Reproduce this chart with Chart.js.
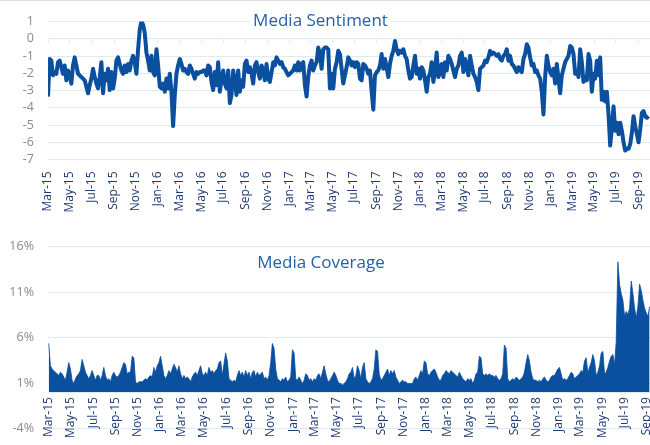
<!DOCTYPE html>
<html>
<head>
<meta charset="utf-8">
<title>Media Sentiment / Media Coverage</title>
<script src="https://cdn.jsdelivr.net/npm/chart.js@4.4.0/dist/chart.umd.min.js"></script>
<style>
  html, body { margin: 0; padding: 0; background: #fff; overflow: hidden; }
  #page { position: relative; width: 650px; height: 445px; overflow: hidden; }
  #topRule { position: absolute; left: 0; top: 0; width: 650px; height: 1px; background: #dcdcdc; z-index: 2; }
  #sentimentChart { position: absolute; left: 0; top: 0; }
  #coverageChart { position: absolute; left: 0; top: 225px; }
</style>
</head>
<body>
<div id="page">
  <div id="topRule"></div>
  <canvas id="sentimentChart" width="650" height="224"></canvas>
  <canvas id="coverageChart" width="652" height="225"></canvas>
</div>
<script>
// Tick labels of the date axis (every second month)
const monthTickLabels = ['Mar-15', 'May-15', 'Jul-15', 'Sep-15', 'Nov-15', 'Jan-16', 'Mar-16', 'May-16',
  'Jul-16', 'Sep-16', 'Nov-16', 'Jan-17', 'Mar-17', 'May-17', 'Jul-17', 'Sep-17', 'Nov-17', 'Jan-18',
  'Mar-18', 'May-18', 'Jul-18', 'Sep-18', 'Nov-18', 'Jan-19', 'Mar-19', 'May-19', 'Jul-19', 'Sep-19'];

const sentimentTicks = [-7, -6, -5, -4, -3, -2, -1, 0, 1];
const coverageTicks = [-4, 1, 6, 11, 16];

// readings start 1 Mar 2015, one reading every few days
const SENTIMENT_STEP_DAYS = 4.65;
const COVERAGE_STEP_DAYS = 4.59;

// Media Sentiment (score)
const sentiment = [
  -3.35, -1.17, -1.27, -2.12, -1.93, -2.03, -1.36, -1.27, -1.65, -2.03,
  -1.55, -2.41, -1.84, -2.12, -2.60, -1.55, -1.08, -1.55, -2.03, -2.12,
  -2.22, -2.31, -2.41, -2.78, -3.16, -2.69, -2.31, -1.74, -2.22, -2.60,
  -2.88, -2.22, -1.36, -3.16, -2.03, -2.41, -1.74, -2.97, -1.93, -2.88,
  -2.31, -1.27, -1.08, -1.46, -1.84, -2.03, -1.55, -1.93, -1.46, -1.84,
  -1.27, -0.99, -1.36, -2.03, -0.61, 0.53, 1.00, 0.81, 0.34, -0.80,
  -1.27, -1.84, -0.99, -1.93, -2.12, -0.61, -1.55, -2.78, -2.88, -2.60,
  -3.07, -2.31, -2.88, -2.03, -3.07, -5.06, -3.26, -2.03, -1.55, -1.17,
  -1.46, -1.84, -1.74, -1.93, -2.03, -1.55, -1.74, -2.03, -2.31, -1.93,
  -2.03, -1.93, -1.93, -1.84, -1.84, -2.12, -1.55, -1.65, -2.50, -2.97,
  -1.93, -2.69, -1.36, -3.07, -2.41, -1.84, -2.60, -2.88, -1.84, -3.73,
  -3.26, -1.84, -2.50, -3.26, -1.84, -3.07, -2.41, -2.78, -1.46, -1.27,
  -1.93, -1.65, -2.03, -2.60, -1.55, -1.36, -1.93, -2.31, -1.55, -1.84,
  -2.41, -1.46, -2.31, -2.50, -1.93, -1.36, -1.55, -1.08, -1.27, -1.46,
  -1.36, -1.65, -1.74, -1.93, -2.12, -2.03, -1.93, -1.84, -1.55, -1.84,
  -1.36, -1.84, -1.46, -1.36, -2.69, -3.35, -2.22, -1.55, -1.27, -1.84,
  -1.55, -1.36, -0.51, -0.89, -1.74, -0.61, -0.51, -0.51, -0.61, -2.88,
  -2.03, -2.88, -1.74, -1.36, -0.70, -0.89, -1.74, -2.60, -2.12, -1.65,
  -1.08,
  -1.27, -1.55, -1.36, -1.65, -1.36, -1.46, -2.31, -2.41, -1.46, -1.55,
  -1.74, -2.03, -1.84, -3.07, -4.11, -2.12, -1.93, -1.84, -1.55, -0.89,
  -1.74, -1.17, -1.65, -2.22, -1.46, -0.99, -0.70, -0.13, -0.61, -0.89,
  -0.70, -0.80, -0.61, -0.99, -1.17, -1.84, -2.31, -2.22, -1.55, -0.99,
  -2.03, -1.74, -2.31, -1.65, -1.84, -2.41, -3.07, -2.22, -2.03, -1.36,
  -2.50, -1.84, -0.80, -2.22, -1.93, -1.46, -2.22, -1.36, -1.84, -0.99,
  -1.17, -1.46, -1.84, -2.22, -1.74, -1.55, -0.99, -0.80, -1.93, -1.17,
  -1.55, -2.12, -0.99, -1.55, -2.03, -2.22, -2.50, -2.97, -1.74, -1.65,
  -1.55, -1.27, -1.36, -1.08, -0.70, -0.89, -0.80, -0.89, -0.99, -0.89,
  -1.17, -1.27, -0.99, -0.89, -0.61, -1.27, -0.99, -1.46, -1.55, -1.74,
  -1.93, -1.65, -1.84, -1.93, -1.17, -0.89, -0.32, -0.51, -1.08, -1.55,
  -1.46, -1.93, -1.84, -2.12, -2.31, -3.07, -4.39, -2.22, -0.99, -1.55,
  -1.93, -2.12, -1.74, -2.60, -1.46, -2.31, -3.16, -2.12, -1.74, -1.36,
  -1.17, -0.99, -0.42, -0.51, -0.89, -2.03, -1.84, -2.22, -0.61, -1.36,
  -2.50, -2.22, -2.41, -0.89, -1.27, -3.07, -2.03, -2.31, -1.27, -2.12,
  -1.08, -3.54, -3.07, -3.64, -3.07, -4.39, -6.19, -5.15, -3.92, -5.34,
  -4.87, -5.53, -4.87, -5.34, -6.00, -6.48, -6.38, -6.38, -6.10, -5.44,
  -4.49, -5.06, -5.53, -6.00, -5.25, -4.30, -4.20, -4.49, -4.58, -4.49
];

// Media Coverage (% share)
const coverage = [
  5.35, 2.89, 2.54, 2.36, 2.19, 2.01, 1.83, 2.19, 2.01, 1.66,
  1.31, 2.19, 3.24, 2.54, 1.31, 0.95, 1.48, 1.83, 2.01, 2.36,
  3.59, 2.89, 2.19, 1.83, 1.48, 1.83, 2.36, 1.83, 1.31, 1.83,
  1.83, 1.31, 1.83, 2.71, 1.83, 1.31, 1.48, 1.13, 1.83, 2.19,
  1.83, 1.66, 1.83, 2.19, 2.71, 3.24, 3.06, 2.01, 2.19, 2.19,
  3.94, 3.77, 1.13, 0.95, 1.13, 1.13, 1.13, 1.31, 1.48, 1.31,
  1.66, 1.83, 1.66, 2.71, 2.19, 2.89, 3.24, 3.94, 2.89, 1.83,
  1.48, 1.83, 2.36, 2.01, 2.54, 3.06, 2.71, 2.19, 2.89, 2.01,
  1.48, 1.83, 1.48, 1.66, 1.48, 1.13, 1.66, 2.01, 2.19, 1.83,
  2.36, 2.89, 2.01, 1.83, 2.19, 1.83, 2.71, 2.19, 2.36, 2.01,
  2.36, 2.54, 3.24, 3.42, 1.83, 3.06, 4.30, 3.42, 1.48, 1.31,
  1.13, 1.31, 1.13, 1.83, 2.36, 1.83, 2.19, 1.66, 2.36, 1.83,
  2.19, 1.48, 2.19, 2.36, 1.66, 2.19, 1.83, 2.01, 2.19, 1.48,
  1.66, 1.31, 1.83, 3.24, 5.35, 4.82, 2.54, 1.48, 1.31, 1.13,
  1.48, 1.31, 1.66, 1.13, 1.31, 1.66, 4.65, 4.30, 1.48, 1.31,
  1.66, 1.31, 0.95, 1.31, 2.01, 1.83, 1.31, 1.48, 1.13, 1.48,
  1.31, 1.83, 2.01, 1.48, 2.19, 2.89, 2.01, 1.31, 1.13, 1.48,
  1.83, 2.19, 1.83, 1.31, 0.95, 0.95, 0.78, 0.95, 1.13, 1.48,
  2.01,
  2.18, 2.71, 1.48, 1.83, 2.89, 2.36, 1.48, 2.71, 3.24, 1.48,
  1.13, 0.95, 1.13, 1.48, 2.54, 4.65, 4.47, 2.01, 1.31, 1.48,
  1.83, 2.18, 2.54, 1.83, 2.36, 2.01, 2.36, 1.66, 1.31, 0.95,
  1.13, 1.31, 1.13, 1.13, 0.95, 0.95, 0.95, 0.95, 1.48, 1.66,
  1.31, 1.83, 2.36, 2.01, 3.42, 3.24, 2.01, 1.83, 2.18, 2.36,
  2.54, 2.18, 1.66, 1.31, 1.31, 1.83, 2.01, 2.36, 2.18, 2.01,
  2.36, 2.18, 2.01, 1.83, 1.66, 2.18, 1.83, 1.48, 1.31, 1.13,
  1.48, 1.31, 1.48, 0.95, 1.31, 2.01, 2.18, 3.94, 3.77, 2.01,
  1.83, 2.01, 1.83, 2.01, 1.83, 1.83, 1.66, 1.83, 1.48, 1.31,
  1.48, 2.01, 5.17, 4.82, 1.48, 1.13, 1.31, 1.48, 1.31, 1.66,
  1.48, 1.31, 1.48, 1.66, 2.18, 3.24, 4.12, 3.42, 2.18, 1.48,
  1.31, 1.31, 1.13, 1.31, 1.13, 1.48, 1.66, 1.31, 1.13, 1.31,
  1.66, 1.83, 1.83, 2.18, 2.54, 2.71, 2.01, 1.31, 1.48, 1.31,
  1.48, 1.83, 2.18, 2.01, 1.48, 1.66, 1.83, 2.01, 2.36, 2.18,
  3.42, 3.77, 2.18, 2.71, 3.24, 4.12, 3.42, 1.83, 2.18, 2.89,
  4.29, 4.47, 2.01, 2.18, 2.71, 3.42, 3.94, 4.12, 3.06, 5.52,
  14.32, 11.85, 10.80, 10.10, 8.34, 8.87, 8.51, 9.22, 12.20, 10.80,
  9.22, 8.16, 9.39, 11.85, 11.15, 10.10, 9.22, 8.69, 8.34, 9.39
];

const BLUE = '#0b4f9f';
const GRID = '#dcecf2';
const TITLE_COLOR = '#2461ad';
const NAVY = '#1f3a72';
const GREY = '#8a8a8a';
const FONT = '"Open Sans", "Liberation Sans", sans-serif';

const DAY = 86400000;
const START = Date.UTC(2015, 2, 1);
const monthTickDays = monthTickLabels.map((_, k) => (Date.UTC(2015, 2 + 2 * k, 1) - START) / DAY);

function setMonthTicks(axis) {
  axis.ticks = monthTickDays.map(v => ({ value: v }));
}
function monthLabel(value) {
  const k = monthTickDays.indexOf(value);
  return k < 0 ? '' : monthTickLabels[k];
}

// title drawn over the plot area, on a white patch
const overlayTitle = {
  id: 'overlayTitle',
  beforeDatasetsDraw(chart, args, opts) {
    const ctx = chart.ctx;
    ctx.save();
    ctx.font = '17px ' + FONT;
    const w = ctx.measureText(opts.text).width;
    ctx.fillStyle = '#fff';
    ctx.fillRect(opts.x - w / 2 - 3, opts.y - 15, w + 6, 20);
    ctx.fillStyle = TITLE_COLOR;
    ctx.textAlign = 'center';
    ctx.textBaseline = 'alphabetic';
    ctx.fillText(opts.text, opts.x, opts.y);
    ctx.restore();
  }
};

Chart.defaults.font.family = FONT;
Chart.defaults.font.size = 12;
Chart.defaults.animation = false;

// Media Sentiment
new Chart(document.getElementById('sentimentChart'), {
  type: 'line',
  data: {
    datasets: [{
      data: sentiment.map((v, i) => ({ x: i * SENTIMENT_STEP_DAYS, y: v })),
      borderColor: BLUE,
      borderWidth: 4,
      pointRadius: 0,
      tension: 0,
      borderJoinStyle: 'round',
      fill: false
    }]
  },
  options: {
    responsive: false,
    layout: { padding: { top: 18, bottom: 0.5, left: 0, right: 0 } },
    plugins: {
      legend: { display: false },
      tooltip: { enabled: false },
      overlayTitle: { text: 'Media Sentiment', x: 320.5, y: 25.5 }
    },
    scales: {
      x: {
        type: 'linear',
        min: 0,
        max: 1678,
        afterBuildTicks: setMonthTicks,
        afterFit: s => { s.height = 64; s.paddingLeft = 0; s.paddingRight = 0; },
        grid: { display: false, drawTicks: false },
        border: { display: false },
        ticks: { callback: monthLabel, autoSkip: false, maxRotation: 90, minRotation: 90, padding: 12, color: NAVY, font: { size: 12 } }
      },
      x0: {
        axis: 'x',
        type: 'linear',
        position: { y: 0 },
        min: 0,
        max: 1678,
        afterBuildTicks: setMonthTicks,
        afterFit: s => { s.paddingLeft = 0; s.paddingRight = 0; },
        ticks: { display: false },
        grid: { drawOnChartArea: false, drawTicks: true, tickLength: 4, color: GRID },
        border: { display: true, color: GRID }
      },
      y: {
        min: -7,
        max: 1,
        afterBuildTicks: axis => { axis.ticks = sentimentTicks.map(v => ({ value: v })); },
        afterFit: s => { s.width = 48; },
        grid: { color: GRID, drawTicks: false },
        border: { display: false },
        ticks: { autoSkip: false, color: GREY, padding: 14, font: { size: 12.5 } }
      }
    }
  },
  plugins: [overlayTitle]
});

// Media Coverage
new Chart(document.getElementById('coverageChart'), {
  type: 'line',
  data: {
    datasets: [{
      data: coverage.map((v, i) => ({ x: i * COVERAGE_STEP_DAYS, y: v })),
      borderColor: BLUE,
      backgroundColor: BLUE,
      borderWidth: 0.8,
      pointRadius: 0,
      tension: 0,
      fill: 'origin'
    }]
  },
  options: {
    responsive: false,
    layout: { padding: { top: 14, bottom: 21.4, left: 0, right: 0 } },
    plugins: {
      legend: { display: false },
      tooltip: { enabled: false },
      overlayTitle: { text: 'Media Coverage', x: 321, y: 43 }
    },
    scales: {
      x: {
        type: 'linear',
        position: { y: 0 },
        min: -2,
        max: 1659,
        afterBuildTicks: setMonthTicks,
        afterFit: s => { s.paddingLeft = 0; s.paddingRight = 0; },
        grid: { drawOnChartArea: false, drawTicks: false },
        border: { display: true, color: GRID },
        ticks: { callback: monthLabel, autoSkip: false, maxRotation: 90, minRotation: 90, padding: 5, color: NAVY, font: { size: 12 } }
      },
      y: {
        min: -4,
        max: 16,
        afterBuildTicks: axis => { axis.ticks = coverageTicks.map(v => ({ value: v })); },
        afterFit: s => { s.width = 48; },
        grid: { color: GRID, drawTicks: false },
        border: { display: false },
        ticks: { autoSkip: false, color: GREY, padding: 14, font: { size: 12.5 }, callback: v => v + '%' }
      }
    }
  },
  plugins: [overlayTitle]
});
</script>
</body>
</html>
